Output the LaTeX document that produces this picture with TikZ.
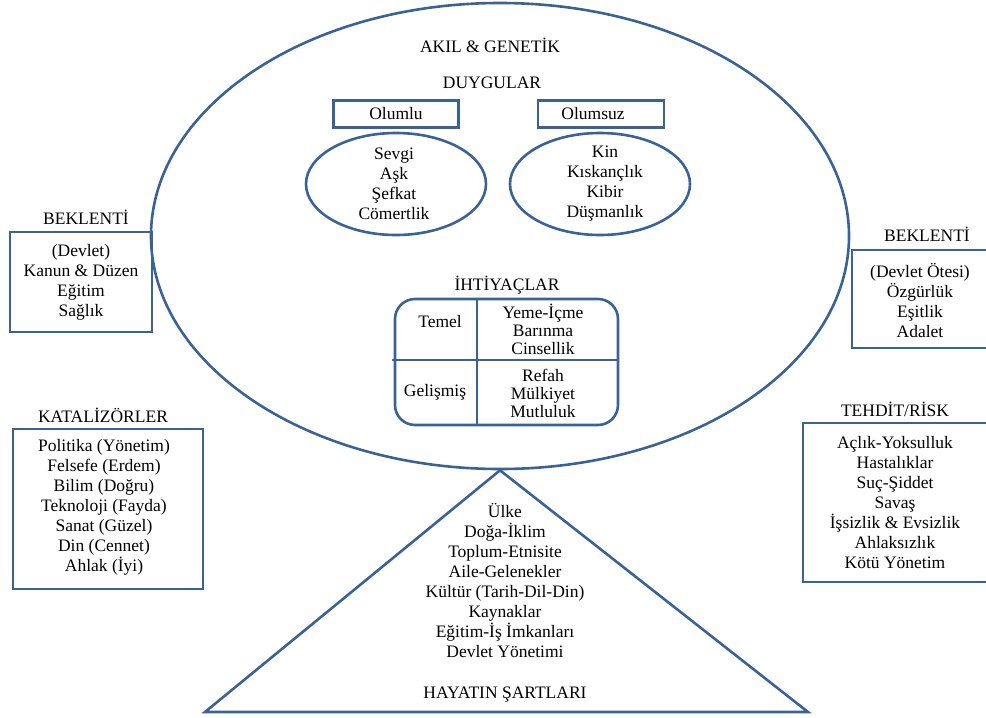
\documentclass[tikz,border=0pt]{standalone}
\usepackage{fontspec}
\setmainfont{Liberation Serif}
\usepackage{tikz}
\usetikzlibrary{shapes,positioning}
\definecolor{frameblue}{HTML}{3B6296}

\begin{document}
\begin{tikzpicture}[x=1pt,y=-1pt]
                \tikzstyle{every node}+=[inner sep=0pt, font=\fontsize{17.5}{20}\selectfont]
                \tikzstyle{frame}=[draw=frameblue, line width=2.6pt]
                \tikzstyle{lst}=[align=center]
                \tikzstyle{tight}=[align=center, font=\fontsize{17.5}{18}\selectfont]
                \useasboundingbox (0,0) rectangle (986,718);
                \clip (0,0) rectangle (986,718);
                % akil & genetik
                \node [frame, ellipse, minimum width=698, minimum height=466] (mind) at (500,236) {};
                \node (akil) at (490,45) {AKIL \& GENET\.{I}K};
                \node (duygu) at (492,83) {DUYGULAR};
                \node [frame, minimum width=125, minimum height=27] (pos) at (396,114) {Olumlu};
                \node [frame, minimum width=126, minimum height=27] (neg) at (601,114) {};
                \node (negtxt) at (593,114) {Olumsuz};
                \node [frame, ellipse, minimum width=180, minimum height=102] (posov) at (396,184) {};
                \node [lst] (poslst) at (394,184) {Sevgi\\Aşk\\Şefkat\\Cömertlik};
                \node [frame, ellipse, minimum width=180, minimum height=102] (negov) at (600,184) {};
                \node [lst] (neglst) at (605,184) {Kin\\Kıskançlık\\Kibir\\Düşmanlık};
                % ihtiyaclar
                \node (ihtiyac) at (507,285) {İHTİYAÇLAR};
                \node [frame, rounded corners=20, minimum width=223, minimum height=126] (needs) at (506.5,362) {};
                \coordinate (vtop) at (477,299);
                \coordinate (vbot) at (477,425);
                \coordinate (hleft) at (392,360);
                \coordinate (hright) at (618,360);
                \draw [frame] (vtop) -- (vbot);
                \draw [frame] (hleft) -- (hright);
                \node (temel) at (440,322) {Temel};
                \node (gelis) at (435,392) {Gelişmiş};
                \node [tight] (temlst) at (543,329) {Yeme-İçme\\Barınma\\Cinsellik};
                \node [tight] (gellst) at (543,393) {Refah\\Mülkiyet\\Mutluluk};
                % beklenti (sol)
                \node (bekL) at (86,217) {BEKLENT\.{I}};
                \node [frame, lst, minimum width=142, minimum height=100] (bekLbox) at (81,282)
                    {(Devlet)\\Kanun \& Düzen\\Eğitim\\Sağlık};
                % beklenti (sag)
                \node (bekR) at (927,234) {BEKLENT\.{I}};
                \node [frame, minimum width=160, minimum height=98] (bekRbox) at (932,299) {};
                \node [lst] (bekRlst) at (920,300) {(Devlet Ötesi)\\Özgürlük\\Eşitlik\\Adalet};
                % katalizorler
                \node (kat) at (103,415) {KATAL\.{I}ZÖRLER};
                \node [frame, minimum width=190, minimum height=160] (katbox) at (108,509) {};
                \node [lst] (katlst) at (104,507) {Politika (Yönetim)\\Felsefe (Erdem)\\Bilim (Doğru)\\Teknoloji (Fayda)\\Sanat (Güzel)\\Din (Cennet)\\Ahlak (\.{I}yi)};
                % tehdit / risk
                \node (risk) at (895,409) {TEHD\.{I}T/R\.{I}SK};
                \node [frame, minimum width=200, minimum height=159] (riskbox) at (903,502.5) {};
                \node [lst] (risklst) at (895,503) {Açlık-Yoksulluk\\Hastalıklar\\Suç-Şiddet\\Savaş\\\.{I}şsizlik \& Evsizlik\\Ahlaksızlık\\Kötü Yönetim};
                % hayatin sartlari
                \coordinate (tleft) at (205,712);
                \coordinate (tright) at (808,712);
                \draw [frame, line join=miter] (mind.south) -- (tright) -- (tleft) -- cycle;
                \node [lst] (sartlst) at (505,580) {Ülke\\Doğa-\.{I}klim\\Toplum-Etnisite\\Aile-Gelenekler\\Kültür (Tarih-Dil-Din)\\Kaynaklar\\Eğitim-\.{I}ş \.{I}mkanları\\Devlet Yönetimi};
                \node (sart) at (505,695) {HAYATIN ŞARTLARI};
            \end{tikzpicture}
\end{document}
